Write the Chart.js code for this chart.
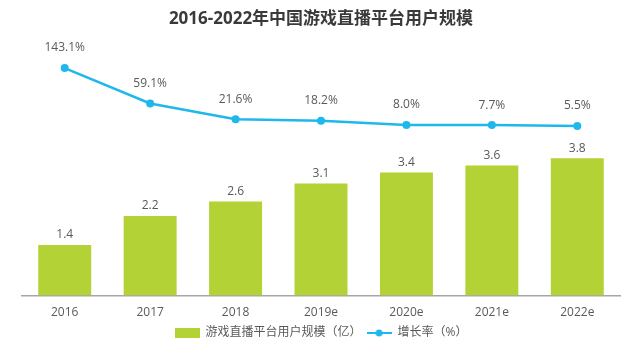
<!DOCTYPE html>
<html>
<head>
<meta charset="utf-8">
<script src="https://cdn.jsdelivr.net/npm/chart.js@4"></script>
<style>
  html, body { margin: 0; padding: 0; background: #fff; }
  #wrap { width: 640px; height: 349px; }
</style>
</head>
<body>
<div id="wrap"><canvas id="c"></canvas></div>
<script>
let years = ['2016', '2017', '2018', '2019e', '2020e', '2021e', '2022e']
let users = [1.4, 2.2, 2.6, 3.1, 3.4, 3.6, 3.8]
let growth = [143.1, 59.1, 21.6, 18.2, 8.0, 7.7, 5.5]

let green = '#b3d235'
let blue = '#1fb8ec'
let fontFam = "'Open Sans', 'Noto Sans CJK SC', sans-serif"

// little pictures for the legend
let makeIcon = function(kind){
    let cv = document.createElement('canvas')
    cv.width = 25
    cv.height = 10
    let g = cv.getContext('2d')
    if(kind == 'bar'){
        g.fillStyle = green
        g.fillRect(0, 0, 25, 10)
    } else {
        g.strokeStyle = blue
        g.lineWidth = 2
        g.beginPath()
        g.moveTo(0, 5)
        g.lineTo(25, 5)
        g.stroke()
        g.fillStyle = blue
        g.beginPath()
        g.arc(12.5, 5, 3.5, 0, Math.PI * 2)
        g.fill()
    }
    return cv
}

let valueLabels = {
    id: 'valueLabels',
    afterDatasetsDraw: function(chart){
        let ctx = chart.ctx
        ctx.save()
        ctx.font = '12px ' + fontFam
        ctx.fillStyle = '#595959'
        ctx.textAlign = 'center'
        ctx.textBaseline = 'middle'
        chart.data.datasets.forEach(function(ds, i){
            let meta = chart.getDatasetMeta(i)
            meta.data.forEach(function(el, j){
                let v = ds.data[j]
                if(ds.type == 'line'){
                    ctx.fillText(v.toFixed(1) + '%', el.x, el.y - 20)
                } else {
                    ctx.fillText(v.toFixed(1), el.x, el.y - 10)
                }
            })
        })
        ctx.restore()
    }
}

new Chart(document.getElementById('c'), {
    data: {
        labels: years,
        datasets: [{
            type: 'line',
            label: '增长率（%）',
            data: growth,
            yAxisID: 'y2',
            borderColor: blue,
            backgroundColor: blue,
            borderWidth: 2.5,
            pointRadius: 4,
            pointBackgroundColor: blue,
            pointBorderWidth: 0,
            tension: 0,
            order: 0
        }, {
            type: 'bar',
            label: '游戏直播平台用户规模（亿）',
            data: users,
            yAxisID: 'y',
            backgroundColor: green,
            categoryPercentage: 0.62,
            barPercentage: 1,
            order: 1
        }]
    },
    options: {
        responsive: true,
        maintainAspectRatio: false,
        animation: false,
        layout: { padding: { left: 22, right: 20, top: 0, bottom: 0 } },
        plugins: {
            title: {
                display: true,
                text: '2016-2022年中国游戏直播平台用户规模',
                color: '#3a3a3a',
                font: { size: 17, weight: 'bold', family: fontFam },
                padding: { top: 9, bottom: 13 }
            },
            legend: {
                position: 'bottom',
                reverse: true,
                labels: {
                    usePointStyle: true,
                    pointStyleWidth: 25,
                    boxHeight: 10,
                    padding: 5,
                    color: '#595959',
                    font: { size: 12, family: fontFam },
                    generateLabels: function(chart){
                        return chart.data.datasets.map(function(ds, i){
                            return {
                                text: ds.label,
                                datasetIndex: i,
                                pointStyle: makeIcon(ds.type),
                                fillStyle: ds.backgroundColor,
                                strokeStyle: ds.backgroundColor,
                                lineWidth: 0,
                                fontColor: '#595959',
                                hidden: false
                            }
                        })
                    }
                }
            },
            tooltip: { enabled: false }
        },
        scales: {
            x: {
                grid: { display: false },
                border: { color: '#a6a6a6', width: 1.5 },
                ticks: { color: '#595959', padding: 2, font: { size: 12, family: fontFam } }
            },
            y: { display: false, min: 0, max: 7 },
            y2: { display: false, min: -397, max: 204 }
        }
    },
    plugins: [valueLabels]
})
</script>
</body>
</html>
